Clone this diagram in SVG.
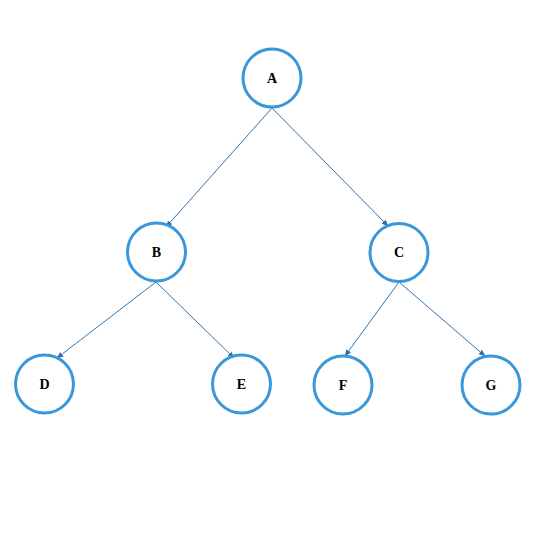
<svg xmlns="http://www.w3.org/2000/svg" width="542" height="536" viewBox="0 0 542 536">
<defs>
<marker id="arr" viewBox="0 0 10 10" refX="9" refY="5" markerWidth="7" markerHeight="7" markerUnits="userSpaceOnUse" orient="auto">
<path d="M0,1 L10,5 L0,9 z" fill="#2e6fa8"/>
</marker>
<style>
.node circle{fill:#fff;stroke:#3a97d9;stroke-width:3}
.node text{font-family:"Liberation Serif",serif;font-size:14px;font-weight:bold;fill:#000;text-anchor:middle;dominant-baseline:central}
.edge{stroke:#2e75b6;stroke-width:1;fill:none;marker-end:url(#arr)}
</style>
</defs>
<rect width="542" height="536" fill="#fff"/>
<g id="connectors">
<line class="edge" x1="272" y1="108" x2="166" y2="227"/>
<line class="edge" x1="272" y1="108" x2="388" y2="226"/>
<line class="edge" x1="156" y1="282" x2="57" y2="358"/>
<line class="edge" x1="156" y1="282" x2="234" y2="358"/>
<line class="edge" x1="399" y1="282" x2="345" y2="356"/>
<line class="edge" x1="399" y1="282" x2="485" y2="356"/>
</g>
<g id="A" class="node"><circle cx="272" cy="78" r="29"/><text x="272" y="78">A</text></g>
<g id="B" class="node"><circle cx="156.5" cy="252" r="29"/><text x="156.5" y="252">B</text></g>
<g id="C" class="node"><circle cx="399" cy="252.5" r="29"/><text x="399" y="252.5">C</text></g>
<g id="D" class="node"><circle cx="44.5" cy="384" r="29"/><text x="44.5" y="384">D</text></g>
<g id="E" class="node"><circle cx="241.5" cy="384" r="29"/><text x="241.5" y="384">E</text></g>
<g id="F" class="node"><circle cx="343" cy="385" r="29"/><text x="343" y="385">F</text></g>
<g id="G" class="node"><circle cx="491" cy="385" r="29"/><text x="491" y="385">G</text></g>
</svg>
